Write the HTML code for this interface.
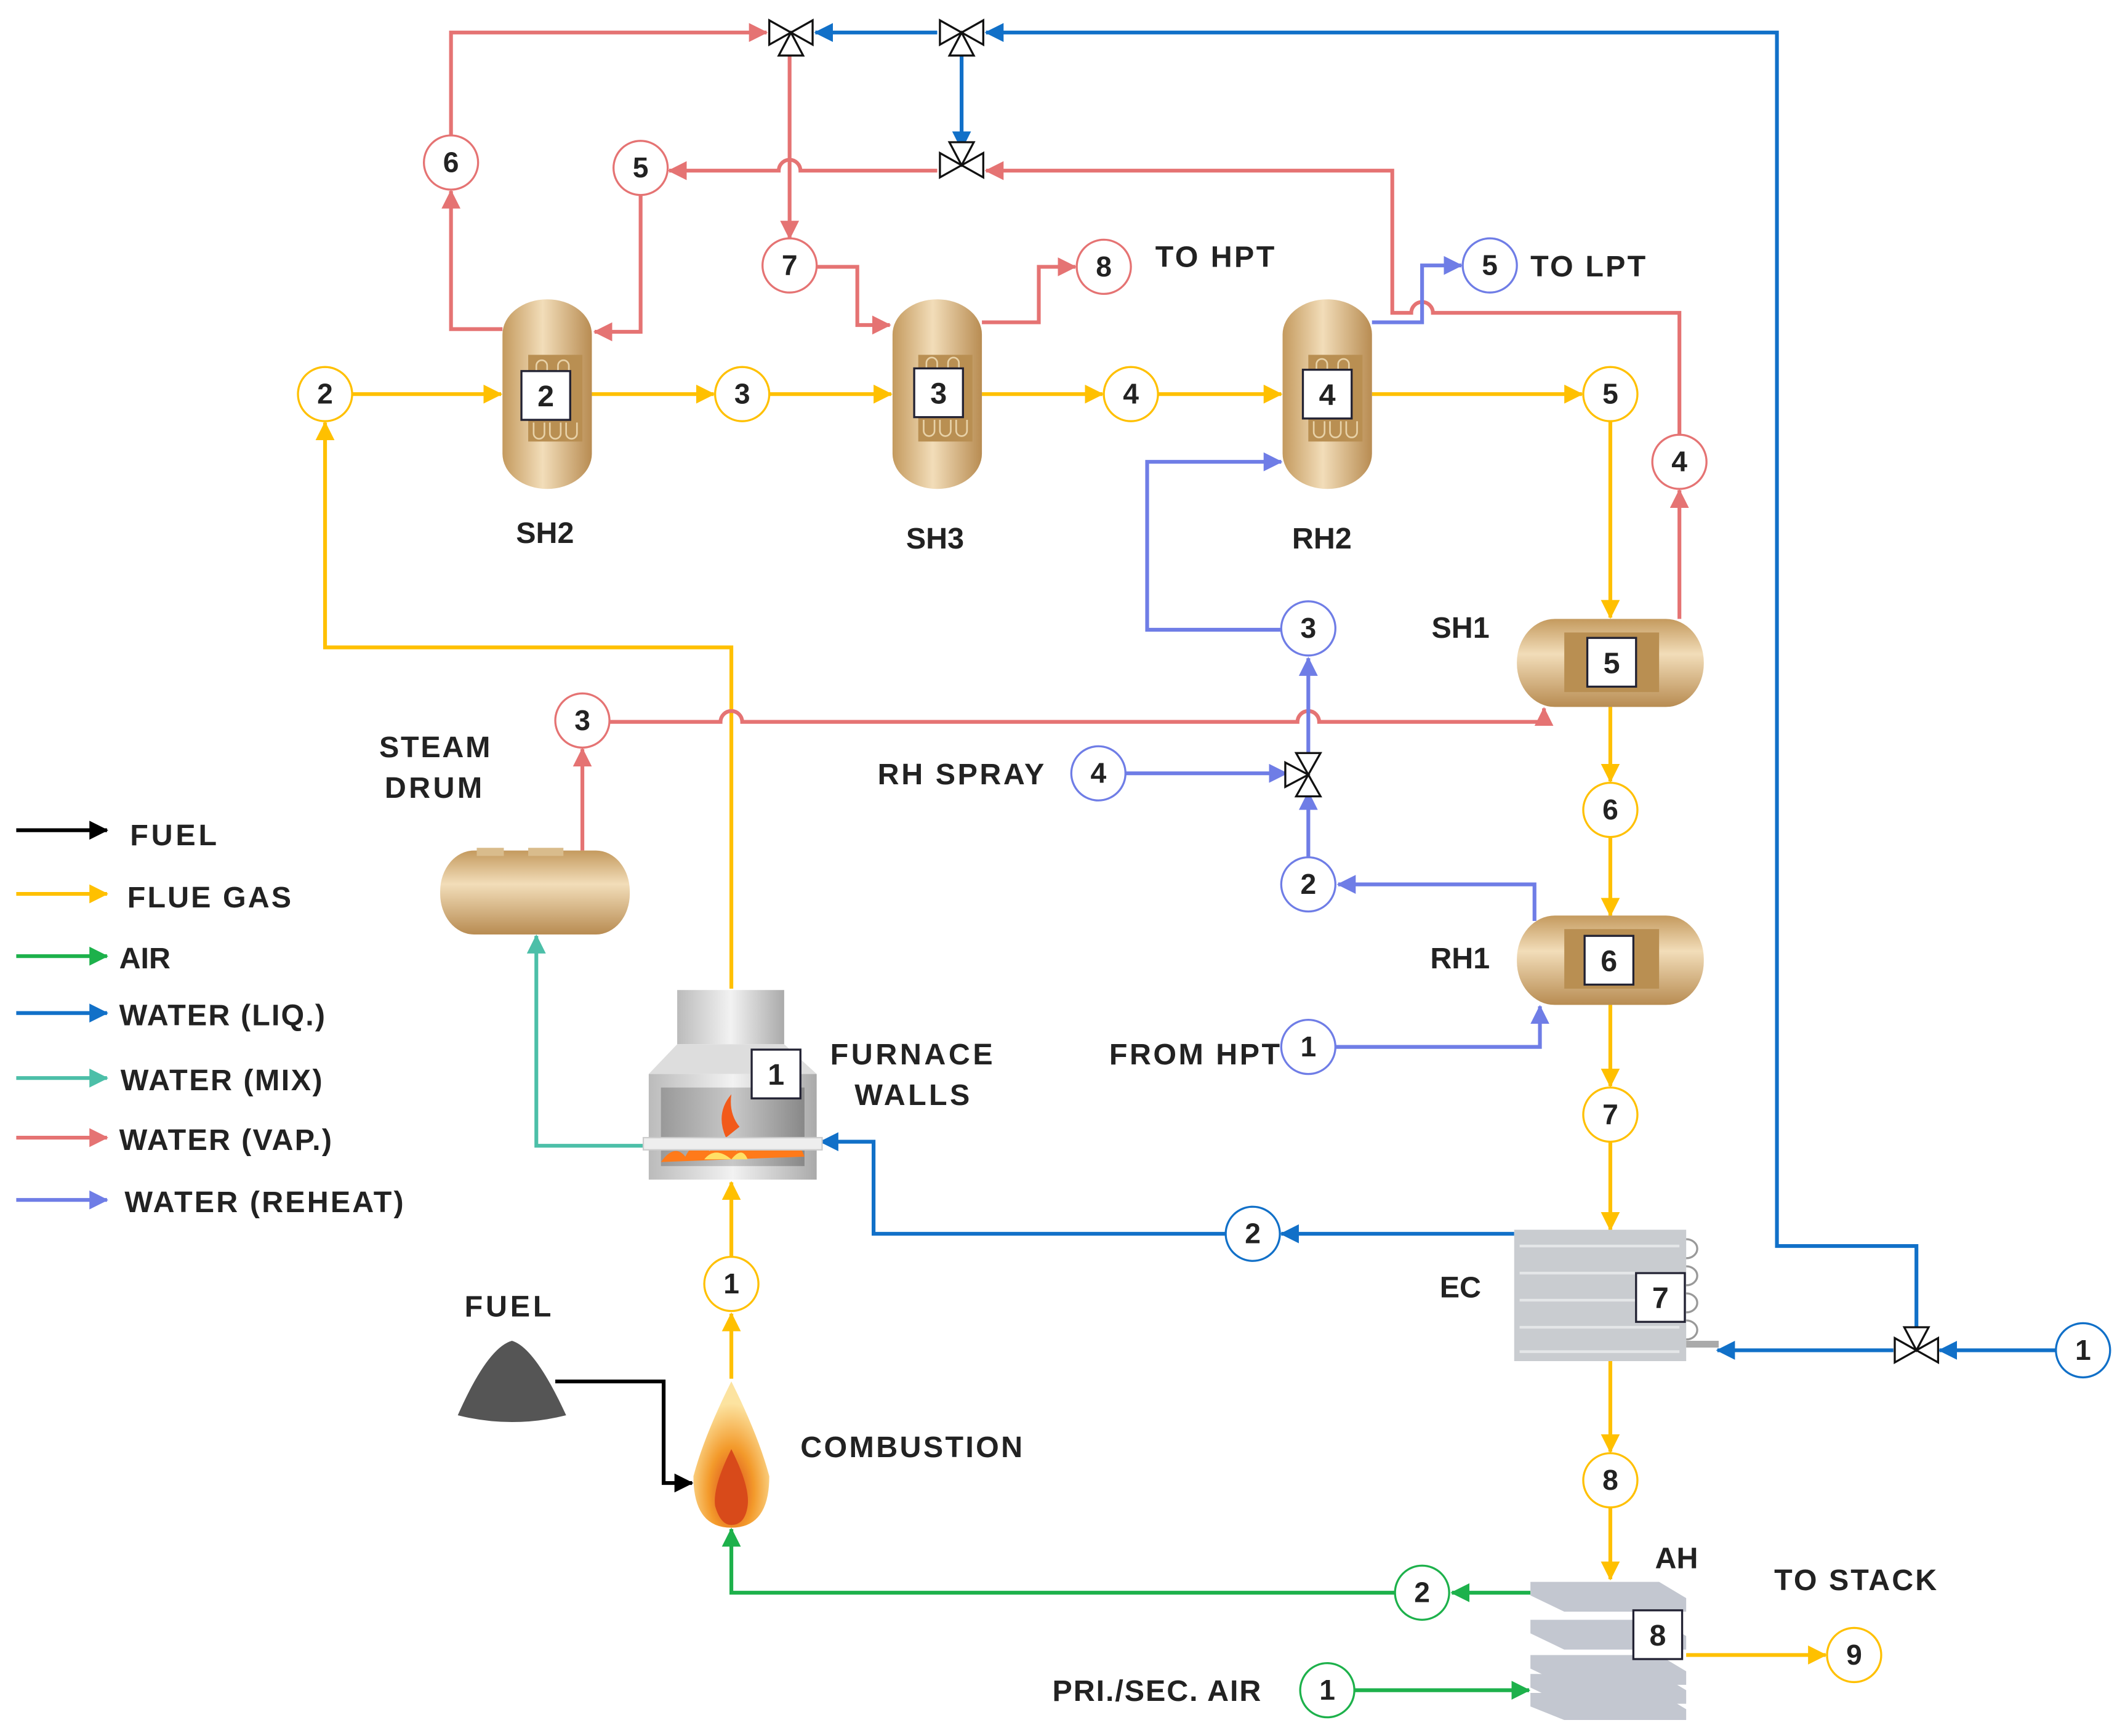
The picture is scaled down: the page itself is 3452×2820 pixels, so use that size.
<!DOCTYPE html>
<html><head><meta charset="utf-8"><style>
html,body{margin:0;padding:0;background:#fff}
svg{display:block}
text{font-family:"Liberation Sans",sans-serif;font-weight:bold;fill:#222}
</style></head><body>
<svg width="3452" height="2820" viewBox="0 0 1569 1281.8" preserveAspectRatio="none" xmlns="http://www.w3.org/2000/svg">
<defs>
<linearGradient id="tanV" x1="0" x2="1" y1="0" y2="0"><stop offset="0" stop-color="#C49A5E"/><stop offset="0.45" stop-color="#F2DDB9"/><stop offset="1" stop-color="#B88C52"/></linearGradient>
<linearGradient id="tanH" x1="0" x2="0" y1="0" y2="1"><stop offset="0" stop-color="#C49A5E"/><stop offset="0.4" stop-color="#F2DDB9"/><stop offset="1" stop-color="#B88C52"/></linearGradient>
<linearGradient id="gray" x1="0" x2="1"><stop offset="0" stop-color="#bbb"/><stop offset="0.5" stop-color="#f2f2f2"/><stop offset="1" stop-color="#aaa"/></linearGradient>
<linearGradient id="dgray" x1="0" x2="1"><stop offset="0" stop-color="#999"/><stop offset="0.5" stop-color="#c8c8c8"/><stop offset="1" stop-color="#888"/></linearGradient>
<radialGradient id="flame" cx="0.5" cy="0.75" r="0.6"><stop offset="0" stop-color="#D8431A"/><stop offset="0.5" stop-color="#F39A2B"/><stop offset="1" stop-color="#FCE3A0"/></radialGradient>
<marker id="aY" markerWidth="14" markerHeight="14" refX="13" refY="7" orient="auto" markerUnits="userSpaceOnUse"><path d="M0,0L14,7L0,14z" fill="#FFC000"/></marker>
<marker id="aR" markerWidth="14" markerHeight="14" refX="13" refY="7" orient="auto" markerUnits="userSpaceOnUse"><path d="M0,0L14,7L0,14z" fill="#E57373"/></marker>
<marker id="aB" markerWidth="14" markerHeight="14" refX="13" refY="7" orient="auto" markerUnits="userSpaceOnUse"><path d="M0,0L14,7L0,14z" fill="#1170C8"/></marker>
<marker id="aP" markerWidth="14" markerHeight="14" refX="13" refY="7" orient="auto" markerUnits="userSpaceOnUse"><path d="M0,0L14,7L0,14z" fill="#6F7DE6"/></marker>
<marker id="aG" markerWidth="14" markerHeight="14" refX="13" refY="7" orient="auto" markerUnits="userSpaceOnUse"><path d="M0,0L14,7L0,14z" fill="#1DB14B"/></marker>
<marker id="aT" markerWidth="14" markerHeight="14" refX="13" refY="7" orient="auto" markerUnits="userSpaceOnUse"><path d="M0,0L14,7L0,14z" fill="#4CBFA8"/></marker>
<marker id="aK" markerWidth="14" markerHeight="14" refX="13" refY="7" orient="auto" markerUnits="userSpaceOnUse"><path d="M0,0L14,7L0,14z" fill="#000"/></marker>
</defs>

<g fill="none" stroke-width="2.8">
<g stroke="#FFC000">
<path d="M540,730V478H240V312" marker-end="url(#aY)"/>
<path d="M260,291H370" marker-end="url(#aY)"/>
<path d="M437,291H527" marker-end="url(#aY)"/>
<path d="M568,291H658" marker-end="url(#aY)"/>
<path d="M725,291H814" marker-end="url(#aY)"/>
<path d="M855,291H946" marker-end="url(#aY)"/>
<path d="M1013,291H1168" marker-end="url(#aY)"/>
<path d="M1189,311V456" marker-end="url(#aY)"/>
<path d="M1189,522V577" marker-end="url(#aY)"/>
<path d="M1189,618V676" marker-end="url(#aY)"/>
<path d="M1189,742V802" marker-end="url(#aY)"/>
<path d="M1189,843V908" marker-end="url(#aY)"/>
<path d="M1189,1005V1072" marker-end="url(#aY)"/>
<path d="M1189,1113V1166" marker-end="url(#aY)"/>
<path d="M1245,1222H1348" marker-end="url(#aY)"/>
<path d="M540,1018V970" marker-end="url(#aY)"/>
<path d="M540,928V873" marker-end="url(#aY)"/>
</g>
<g stroke="#E57373">
<path d="M430,628V553" marker-end="url(#aR)"/>
<path d="M450,533H532a8,8 0 0 1 16,0H958a8,8 0 0 1 16,0H1140V523" marker-end="url(#aR)"/>
<path d="M1240,457V362" marker-end="url(#aR)"/>
<path d="M1240,321V231H1058a8,8 0 0 0 -16,0H1028V126H728" marker-end="url(#aR)"/>
<path d="M692,126H591a8,8 0 0 0 -16,0H494" marker-end="url(#aR)"/>
<path d="M473,144V245H439" marker-end="url(#aR)"/>
<path d="M371,243H333V141" marker-end="url(#aR)"/>
<path d="M333,100V24H566" marker-end="url(#aR)"/>
<path d="M583,36V176" marker-end="url(#aR)"/>
<path d="M603,197H633V240H657" marker-end="url(#aR)"/>
<path d="M725,238H767V197H794" marker-end="url(#aR)"/>
</g>
<g stroke="#1170C8">
<path d="M1518,997H1432" marker-end="url(#aB)"/>
<path d="M1398,997H1268" marker-end="url(#aB)"/>
<path d="M1415,985V920H1312V24H728" marker-end="url(#aB)"/>
<path d="M710,36V110" marker-end="url(#aB)"/>
<path d="M692,24H602" marker-end="url(#aB)"/>
<path d="M1118,911H946" marker-end="url(#aB)"/>
<path d="M905,911H645V843H606" marker-end="url(#aB)"/>
</g>
<path d="M475,846H396V691" stroke="#4CBFA8" marker-end="url(#aT)"/>
<g stroke="#6F7DE6">
<path d="M986,773H1137V743" marker-end="url(#aP)"/>
<path d="M1133,680V653H988" marker-end="url(#aP)"/>
<path d="M966,633V585" marker-end="url(#aP)"/>
<path d="M831,571H950" marker-end="url(#aP)"/>
<path d="M966,560V486" marker-end="url(#aP)"/>
<path d="M946,465H847V341H946" marker-end="url(#aP)"/>
<path d="M1013,238H1050V196H1079" marker-end="url(#aP)"/>
</g>
<g stroke="#1DB14B">
<path d="M1000,1248H1129" marker-end="url(#aG)"/>
<path d="M1130,1176H1072" marker-end="url(#aG)"/>
<path d="M1030,1176H540V1129" marker-end="url(#aG)"/>
</g>
<path d="M410,1020H490V1095H511" stroke="#000" marker-end="url(#aK)"/>
<path d="M12,613H79" stroke="#000" marker-end="url(#aK)"/>
<path d="M12,660H79" stroke="#FFC000" marker-end="url(#aY)"/>
<path d="M12,706H79" stroke="#1DB14B" marker-end="url(#aG)"/>
<path d="M12,748H79" stroke="#1170C8" marker-end="url(#aB)"/>
<path d="M12,796H79" stroke="#4CBFA8" marker-end="url(#aT)"/>
<path d="M12,840H79" stroke="#E57373" marker-end="url(#aR)"/>
<path d="M12,886H79" stroke="#6F7DE6" marker-end="url(#aP)"/>
</g>

<g fill="#fff" stroke="#111" stroke-width="1.5">
<g transform="translate(584,24)"><path d="M0,0L-16,-9V9z M0,0L16,-9V9z M0,0L-9,17H9z"/></g>
<g transform="translate(710,24)"><path d="M0,0L-16,-9V9z M0,0L16,-9V9z M0,0L-9,17H9z"/></g>
<g transform="translate(710,122)"><path d="M0,0L-16,-9V9z M0,0L16,-9V9z M0,0L-9,-17H9z"/></g>
<g transform="translate(1415,997)"><path d="M0,0L-16,-9V9z M0,0L16,-9V9z M0,0L-9,-17H9z"/></g>
<g transform="translate(966,572)"><path d="M0,0L-9,-16H9z M0,0L-9,16H9z M0,0L-17,-9V9z"/></g>
</g>

<g>
<rect x="371" y="221" width="66" height="140" rx="33" ry="26" fill="url(#tanV)"/>
<rect x="659" y="221" width="66" height="140" rx="33" ry="26" fill="url(#tanV)"/>
<rect x="947" y="221" width="66" height="140" rx="33" ry="26" fill="url(#tanV)"/>
<rect x="390" y="262" width="40" height="64" fill="#B98F52"/>
<rect x="678" y="262" width="40" height="64" fill="#B98F52"/>
<rect x="966" y="262" width="40" height="64" fill="#B98F52"/>
<g fill="none" stroke="#E8D2A8" stroke-width="1.2">
<path d="M396,278v-8a4,4 0 0 1 8,0v8M412,278v-8a4,4 0 0 1 8,0v8M394,312v8a4,4 0 0 0 8,0v-8M406,312v8a4,4 0 0 0 8,0v-8M418,312v8a4,4 0 0 0 8,0v-8"/>
<path d="M684,276v-8a4,4 0 0 1 8,0v8M700,276v-8a4,4 0 0 1 8,0v8M682,310v8a4,4 0 0 0 8,0v-8M694,310v8a4,4 0 0 0 8,0v-8M706,310v8a4,4 0 0 0 8,0v-8"/>
<path d="M972,277v-8a4,4 0 0 1 8,0v8M988,277v-8a4,4 0 0 1 8,0v8M970,311v8a4,4 0 0 0 8,0v-8M982,311v8a4,4 0 0 0 8,0v-8M994,311v8a4,4 0 0 0 8,0v-8"/>
</g>
<rect x="1120" y="457" width="138" height="65" rx="28" ry="32" fill="url(#tanH)"/>
<rect x="1155" y="467" width="70" height="44" fill="#B98F52"/>
<rect x="1120" y="676" width="138" height="66" rx="28" ry="32" fill="url(#tanH)"/>
<rect x="1155" y="686" width="70" height="44" fill="#B98F52"/>
<rect x="325" y="628" width="140" height="62" rx="25" ry="30" fill="url(#tanH)"/>
<rect x="352" y="626" width="20" height="6" fill="#D9BC8C"/><rect x="390" y="626" width="26" height="6" fill="#D9BC8C"/>
<rect x="500" y="731" width="79" height="40" fill="url(#gray)"/>
<path d="M500,771H579L603,793H479z" fill="#ddd"/>
<rect x="479" y="793" width="124" height="78" fill="url(#gray)"/>
<rect x="488" y="803" width="106" height="58" fill="url(#dgray)"/>
<path d="M488,858q10,-14 18,-4q8,-16 18,-4q10,-14 20,0q10,-18 18,-2q10,-14 20,0q6,-10 12,6z" fill="#FF7A1A"/>
<path d="M520,856q8,-10 20,0q8,-10 12,0z" fill="#FFE066"/>
<path d="M536,840q-8,-18 4,-32q-2,14 6,24z" fill="#F25A1A"/>
<rect x="475" y="840" width="132" height="9" fill="#eee" stroke="#ccc" stroke-width="1"/>
<rect x="1118" y="908" width="127" height="97" fill="#C9CCD0"/>
<g stroke="#E4E6E8" stroke-width="2"><path d="M1122,920H1240M1122,940H1240M1122,960H1240M1122,980H1240M1122,998H1240"/></g>
<g fill="none" stroke="#999" stroke-width="1.5"><path d="M1245,915a7,6 0 0 1 0,14M1245,935a7,6 0 0 1 0,14M1245,955a7,6 0 0 1 0,14M1245,975a7,6 0 0 1 0,14"/></g>
<rect x="1245" y="990" width="24" height="5" fill="#aaa"/>
<g fill="#C3C7D0">
<path d="M1130,1168H1225L1245,1180V1190H1155L1130,1178z"/>
<path d="M1130,1196H1225L1245,1208V1218H1155L1130,1206z"/>
<path d="M1130,1222H1225L1245,1234V1244H1155L1130,1232z"/>
<path d="M1130,1236H1225L1245,1248V1258H1155L1130,1246z"/>
<path d="M1130,1250H1225L1245,1262V1270H1155L1130,1260z"/>
</g>
<path d="M338,1045Q360,995 378,990Q395,995 418,1045Q378,1055 338,1045z" fill="#555"/>
<path d="M540,1020Q520,1060 512,1090Q512,1128 540,1128Q568,1128 568,1090Q560,1060 540,1020z" fill="url(#flame)"/>
<path d="M540,1070Q526,1098 528,1112Q532,1126 540,1126Q550,1126 552,1112Q554,1098 540,1070z" fill="#D84A1A"/>
</g>

<g fill="#fff" stroke="#223" stroke-width="1.5">
<rect x="385" y="274" width="36" height="36"/><rect x="675" y="272" width="36" height="36"/><rect x="962" y="273" width="36" height="36"/>
<rect x="1172" y="471" width="36" height="36"/><rect x="1170" y="691" width="36" height="36"/>
<rect x="555" y="775" width="36" height="36"/><rect x="1208" y="940" width="36" height="36"/><rect x="1206" y="1189" width="36" height="36"/>
</g>
<g font-size="22" text-anchor="middle">
<text x="403" y="300">2</text><text x="693" y="298">3</text><text x="980" y="299">4</text>
<text x="1190" y="497">5</text><text x="1188" y="717">6</text><text x="573" y="801">1</text>
<text x="1226" y="966">7</text><text x="1224" y="1215">8</text>
</g>

<g fill="#fff" stroke-width="1.5">
<g stroke="#FFC000"><circle cx="240" cy="291" r="20"/><circle cx="548" cy="291" r="20"/><circle cx="835" cy="291" r="20"/><circle cx="1189" cy="291" r="20"/><circle cx="1189" cy="598" r="20"/><circle cx="1189" cy="823" r="20"/><circle cx="1189" cy="1093" r="20"/><circle cx="1369" cy="1222" r="20"/><circle cx="540" cy="948" r="20"/></g>
<g stroke="#E57373"><circle cx="333" cy="120" r="20"/><circle cx="473" cy="124" r="20"/><circle cx="583" cy="196" r="20"/><circle cx="815" cy="197" r="20"/><circle cx="1240" cy="341" r="20"/><circle cx="430" cy="532" r="20"/></g>
<g stroke="#1170C8"><circle cx="925" cy="911" r="20"/><circle cx="1538" cy="997" r="20"/></g>
<g stroke="#6F7DE6"><circle cx="1100" cy="196" r="20"/><circle cx="966" cy="464" r="20"/><circle cx="811" cy="571" r="20"/><circle cx="966" cy="653" r="20"/><circle cx="966" cy="773" r="20"/></g>
<g stroke="#1DB14B"><circle cx="1050" cy="1176" r="20"/><circle cx="980" cy="1248" r="20"/></g>
</g>
<g font-size="21" text-anchor="middle">
<text x="240" y="298">2</text><text x="548" y="298">3</text><text x="835" y="298">4</text><text x="1189" y="298">5</text><text x="1189" y="605">6</text><text x="1189" y="830">7</text><text x="1189" y="1100">8</text><text x="1369" y="1229">9</text><text x="540" y="955">1</text>
<text x="333" y="127">6</text><text x="473" y="131">5</text><text x="583" y="203">7</text><text x="815" y="204">8</text><text x="1240" y="348">4</text><text x="430" y="539">3</text>
<text x="925" y="918">2</text><text x="1538" y="1004">1</text>
<text x="1100" y="203">5</text><text x="966" y="471">3</text><text x="811" y="578">4</text><text x="966" y="660">2</text><text x="966" y="780">1</text>
<text x="1050" y="1183">2</text><text x="980" y="1255">1</text>
</g>

<g font-size="22">
<text x="853" y="197" textLength="88">TO HPT</text><text x="1130" y="204" textLength="85">TO LPT</text>
<text x="381" y="401">SH2</text><text x="669" y="405">SH3</text><text x="954" y="405">RH2</text>
<text x="1057" y="471">SH1</text><text x="1056" y="715">RH1</text><text x="1063" y="958">EC</text>
<text x="1222" y="1158">AH</text><text x="1310" y="1174" textLength="120">TO STACK</text>
<text x="777" y="1256" textLength="154">PRI./SEC. AIR</text><text x="819" y="786" textLength="126">FROM HPT</text><text x="648" y="579" textLength="123">RH SPRAY</text>
<text x="280" y="559" textLength="82">STEAM</text><text x="284" y="589" textLength="72">DRUM</text>
<text x="613" y="786" textLength="120">FURNACE</text><text x="631" y="816" textLength="85">WALLS</text>
<text x="343" y="972" textLength="64">FUEL</text><text x="591" y="1076" textLength="164">COMBUSTION</text>
<text x="96" y="624" textLength="64">FUEL</text><text x="94" y="670" textLength="121">FLUE GAS</text><text x="88" y="715">AIR</text>
<text x="88" y="757" textLength="152">WATER (LIQ.)</text><text x="89" y="805" textLength="149">WATER (MIX)</text><text x="88" y="849" textLength="157">WATER (VAP.)</text><text x="92" y="895" textLength="206">WATER (REHEAT)</text>
</g>
</svg>
</body></html>
